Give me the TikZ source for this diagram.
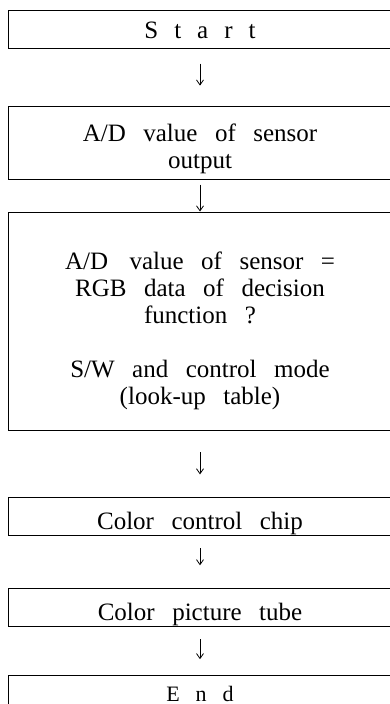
\documentclass[tikz,border=0pt]{standalone}
\usepackage{fontspec}
\setmainfont[WordSpace=2.8]{Liberation Serif}
\usetikzlibrary{positioning,arrows.meta}
\newcommand\spacedout{\spaceskip=16pt\relax}

\begin{document}
\begin{tikzpicture}[x=1pt,y=-1pt,
    box/.style={draw,line width=0.9pt,minimum width=384pt,inner sep=0pt,align=center,font=\fontsize{25}{27}\selectfont},
    onebox/.style={box,minimum height=38pt,text height=26pt,text depth=0pt},
    termbox/.style={onebox,font={\fontsize{#1}{27}\selectfont\spacedout}},
    flow/.style={-{Straight Barb[length=5pt,width=7pt]},line width=0.8pt}]
    \useasboundingbox (0,0) rectangle (389,704);
    % Boxes of the flow chart
    \node[termbox=25,minimum height=37.5pt,text height=17.3pt] (start) at (200,29.4) {S t a r t};
    \node[box,minimum height=73pt,below=57pt of start] (adval) {\rule{0pt}{31pt}A/D value of sensor\\output};
    \node[box,minimum height=218pt,below=32pt of adval] (decide) {\rule{0pt}{37.5pt}A/D\hspace{4pt} value of sensor =\\RGB data of decision\\function ?\\[27pt]S/W and control mode\\(look-up table)};
    \node[onebox,below=67pt of decide] (chip) {Color control chip};
    \node[onebox,below=52pt of chip] (tube) {Color picture tube};
    \node[termbox=22,text height=13pt,below=48pt of tube] (end) {E n d};
    % Arrows between the boxes
    \draw[flow,shorten <=15pt,shorten >=20pt] (start) -- (adval);
    \draw[flow,shorten <=5pt] (adval) -- (decide);
    \draw[flow,shorten <=22pt,shorten >=23pt] (decide) -- (chip);
    \draw[flow,shorten <=12pt,shorten >=23pt] (chip) -- (tube);
    \draw[flow,shorten <=12pt,shorten >=16pt] (tube) -- (end);
\end{tikzpicture}
\end{document}
